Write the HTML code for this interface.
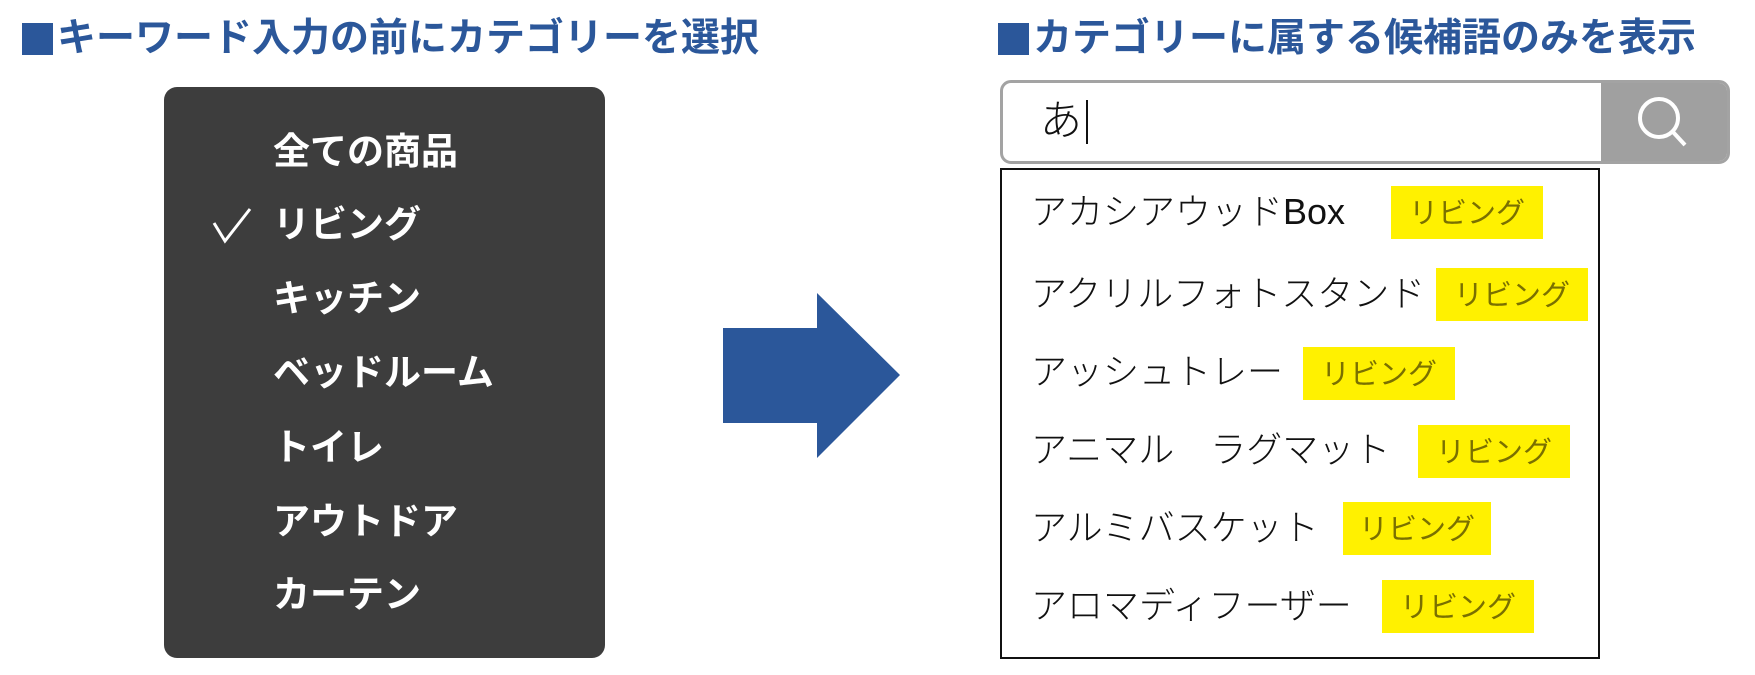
<!DOCTYPE html>
<html><head><meta charset="utf-8"><style>
body{margin:0;width:1755px;height:675px;background:#fff;position:relative;overflow:hidden;font-family:"Liberation Sans","Noto Sans CJK JP",sans-serif}
.a{position:absolute;white-space:nowrap}
.t{color:#2b579a;font-weight:bold;font-size:39px;line-height:46px}
.sq{position:absolute;background:#2b579a;width:31px;height:32px;top:23px}
.m{color:#fff;font-weight:bold;font-size:37px;line-height:40px}
.r{color:#111;font-size:36px;line-height:40px;font-weight:300}
.g{background:#fff100;color:#7a7000;font-size:29px;line-height:50px;padding-top:3px;width:152px;height:50px;text-align:center}
</style></head><body>
<div class="sq" style="left:22px"></div>
<div class="a t" style="left:57px;top:16px">キーワード入力の前にカテゴリーを選択</div>
<div class="sq" style="left:998px"></div>
<div class="a t" style="left:1033px;top:16px">カテゴリーに属する候補語のみを表示</div>

<div class="a" style="left:164px;top:87px;width:441px;height:571px;background:#3d3d3d;border-radius:13px"></div>
<div class="a m" style="left:273px;top:132px">全ての商品</div>
<svg class="a" style="left:210px;top:205px" width="45" height="40"><polyline points="4,18 15,36 40,4" fill="none" stroke="#fff" stroke-width="3"/></svg>
<div class="a m" style="left:273px;top:205px">リビング</div>
<div class="a m" style="left:273px;top:279px">キッチン</div>
<div class="a m" style="left:273px;top:353px">ベッドルーム</div>
<div class="a m" style="left:273px;top:428px">トイレ</div>
<div class="a m" style="left:273px;top:502px">アウトドア</div>
<div class="a m" style="left:273px;top:575px">カーテン</div>

<svg class="a" style="left:0;top:0" width="1755" height="675">
<polygon points="723,328 817,328 817,293 900,375 817,458 817,423 723,423" fill="#2b579a"/>
</svg>

<div class="a" style="left:1000px;top:80px;width:724px;height:78px;border:3px solid #a3a3a3;border-radius:11px;background:#fff;overflow:hidden">
<div class="a" style="left:598px;top:0;width:130px;height:78px;background:#a0a0a0"></div>
</div>
<svg class="a" style="left:1628px;top:90px" width="70" height="70">
<circle cx="31" cy="28" r="19" fill="none" stroke="#fff" stroke-width="4"/>
<line x1="45" y1="42" x2="57" y2="55" stroke="#fff" stroke-width="4"/>
</svg>
<div class="a r" style="left:1040px;top:97px;font-size:42px;line-height:48px">あ</div>
<div class="a" style="left:1086px;top:100px;width:2px;height:44px;background:#111"></div>

<div class="a" style="left:1000px;top:168px;width:596px;height:487px;border:2px solid #111"></div>
<div class="a r" style="left:1031px;top:192px">アカシアウッドBox</div>
<div class="a g" style="left:1391px;top:186px">リビング</div>
<div class="a r" style="left:1031px;top:274px">アクリルフォトスタンド</div>
<div class="a g" style="left:1436px;top:268px">リビング</div>
<div class="a r" style="left:1031px;top:352px">アッシュトレー</div>
<div class="a g" style="left:1303px;top:347px">リビング</div>
<div class="a r" style="left:1031px;top:430px">アニマル　ラグマット</div>
<div class="a g" style="left:1418px;top:425px">リビング</div>
<div class="a r" style="left:1031px;top:508px">アルミバスケット</div>
<div class="a g" style="left:1343px;top:502px;width:148px">リビング</div>
<div class="a r" style="left:1031px;top:586px">アロマディフーザー</div>
<div class="a g" style="left:1382px;top:580px">リビング</div>
</body></html>
